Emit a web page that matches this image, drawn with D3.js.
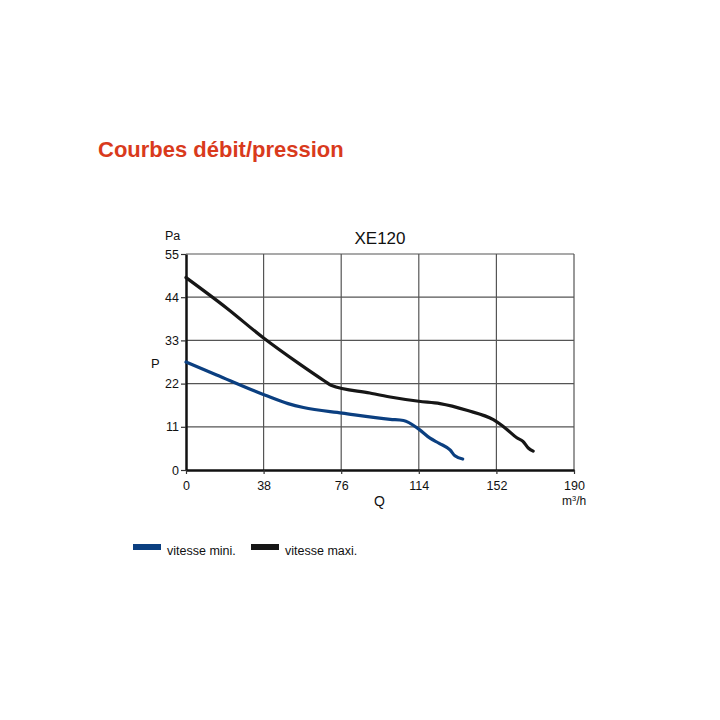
<!DOCTYPE html>
<html>
<head>
<meta charset="utf-8">
<script src="https://cdn.jsdelivr.net/npm/d3@7"></script>
<style>
  body { margin: 0; background: #fff; }
  text { font-family: "Liberation Sans", Arial, sans-serif; }
</style>
</head>
<body>
<div class="chart"></div>
<script>
// Ticks
let xTicks = [0, 38, 76, 114, 152, 190];
let yTicks = [0, 11, 22, 33, 44, 55];

// vitesse mini. (Q in m3/h, P in Pa)
let miniQ = [0, 15, 38.5, 50, 57.5, 76.5, 100, 106.5, 114, 119.5, 124, 129.3, 131.7, 135.5];
let miniP = [27.5, 24.2, 19.1, 16.9, 15.9, 14.5, 12.9, 12.6, 10.4, 8.1, 6.8, 5.1, 3.6, 2.8];

// vitesse maxi.
let maxiQ = [0, 20, 38, 55, 68, 71, 90, 100, 114, 124.4, 137.5, 150.5, 157, 162, 165, 167.6, 170];
let maxiP = [49, 41.2, 33.6, 27.2, 22.6, 21.6, 19.6, 18.6, 17.5, 16.9, 15.2, 12.8, 10.4, 8.2, 7.3, 5.6, 4.8];

let seriesNames = ["vitesse mini.", "vitesse maxi."];
let seriesColors = ["#0b3f80", "#161616"];

let svgWidth = 720;
let svgHeight = 720;
let margin = {top: 254, right: 146, bottom: 250, left: 186};
let width = svgWidth - margin.left - margin.right;
let height = svgHeight - margin.top - margin.bottom;

let svg = d3.select(".chart").append("svg")
  .attr("width", svgWidth)
  .attr("height", svgHeight);

// Page heading
svg.append("text")
  .attr("x", 98)
  .attr("y", 157)
  .style("font-size", "22px")
  .style("font-weight", "bold")
  .attr("fill", "#d93a1c")
  .text("Courbes débit/pression");

let chartGroup = svg.append("g")
  .attr("transform", `translate(${margin.left}, ${margin.top})`);

let xScale = d3.scaleLinear().domain([0, 190]).range([0, width]);
let yScale = d3.scaleLinear().domain([0, 55]).range([height, 0]);

// grid
chartGroup.append("g")
  .selectAll("line.v")
  .data(xTicks.slice(1))
  .enter()
  .append("line")
  .attr("x1", d => xScale(d))
  .attr("x2", d => xScale(d))
  .attr("y1", 0)
  .attr("y2", height)
  .attr("stroke", "#555")
  .attr("stroke-width", 1.2);

chartGroup.append("g")
  .selectAll("line.h")
  .data(yTicks.slice(1))
  .enter()
  .append("line")
  .attr("x1", 0)
  .attr("x2", width)
  .attr("y1", d => yScale(d))
  .attr("y2", d => yScale(d))
  .attr("stroke", "#555")
  .attr("stroke-width", 1.2);

// axes
let leftAxis = d3.axisLeft(yScale).tickValues(yTicks).tickSize(5).tickPadding(2).tickSizeOuter(0);
let bottomAxis = d3.axisBottom(xScale).tickValues(xTicks).tickSize(4).tickPadding(7).tickSizeOuter(0);

let yAxisG = chartGroup.append("g").call(leftAxis);
let xAxisG = chartGroup.append("g")
  .attr("transform", `translate(0, ${height})`)
  .call(bottomAxis);

[yAxisG, xAxisG].forEach(g => {
  g.select(".domain").attr("stroke", "#111").attr("stroke-width", 2.5);
  g.selectAll(".tick line").attr("stroke", "#333").attr("stroke-width", 1.2);
  g.selectAll(".tick text")
    .attr("fill", "#111")
    .style("font-size", "12.5px")
    .style("font-family", "\"Liberation Sans\", Arial, sans-serif");
});

// curves
let line = d3.line()
  .x(d => xScale(d[0]))
  .y(d => yScale(d[1]))
  .curve(d3.curveMonotoneX);

let series = [
  d3.zip(miniQ, miniP),
  d3.zip(maxiQ, maxiP)
];

series.forEach((pts, i) => {
  chartGroup.append("path")
    .datum(pts)
    .attr("d", line)
    .attr("fill", "none")
    .attr("stroke", seriesColors[i])
    .attr("stroke-width", 3.2)
    .attr("stroke-linejoin", "round")
    .attr("stroke-linecap", "round");
});

// chart title and axis labels
chartGroup.append("text")
  .attr("x", width / 2)
  .attr("y", -10)
  .attr("text-anchor", "middle")
  .style("font-size", "17px")
  .attr("fill", "#111")
  .text("XE120");

chartGroup.append("text")
  .attr("x", -21)
  .attr("y", -14)
  .style("font-size", "12.5px")
  .attr("fill", "#111")
  .text("Pa");

chartGroup.append("text")
  .attr("x", -35)
  .attr("y", 114)
  .style("font-size", "13px")
  .attr("fill", "#111")
  .text("P");

chartGroup.append("text")
  .attr("x", 188)
  .attr("y", height + 36)
  .style("font-size", "14px")
  .attr("fill", "#111")
  .text("Q");

let unit = chartGroup.append("text")
  .attr("x", width - 12)
  .attr("y", height + 35)
  .style("font-size", "12px")
  .attr("fill", "#111");
unit.append("tspan").text("m");
unit.append("tspan").attr("dy", -4).style("font-size", "7.5px").text("3");
unit.append("tspan").attr("dy", 4).text("/h");

// legend
let legend = svg.append("g");
let legendX = [133, 251];
seriesNames.forEach((name, i) => {
  legend.append("rect")
    .attr("x", legendX[i])
    .attr("y", 544)
    .attr("width", 28)
    .attr("height", 6)
    .attr("fill", seriesColors[i]);
  legend.append("text")
    .attr("x", legendX[i] + 34)
    .attr("y", 555)
    .style("font-size", "12.5px")
    .attr("fill", "#111")
    .text(name);
});
</script>
</body>
</html>
